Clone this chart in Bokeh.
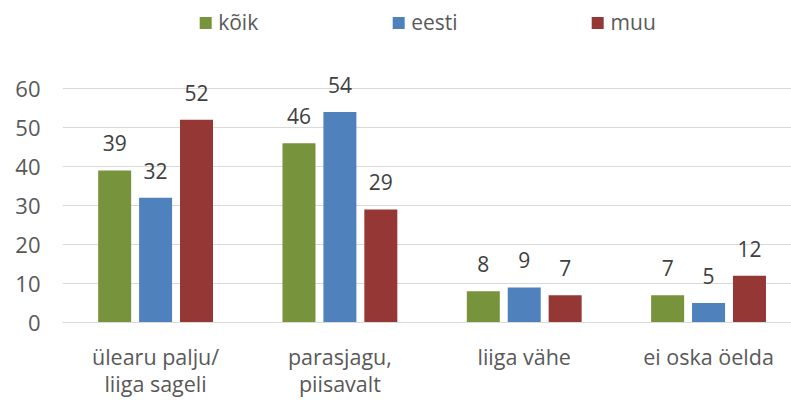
from bokeh.plotting import figure
from bokeh.models import ColumnDataSource, FixedTicker, Range1d, Legend, LegendItem
from bokeh.embed import file_html
from bokeh.resources import INLINE
from bokeh.core.properties import value

categories = ["ülearu palju/\nliiga sageli", "parasjagu,\npiisavalt", "liiga vähe", "ei oska öelda"]
series_names = ["kõik", "eesti", "muu"]
koik = [39, 46, 8, 7]
eesti = [32, 54, 9, 5]
muu = [52, 29, 7, 12]
y_ticks = [0, 10, 20, 30, 40, 50, 60]

colors = ["#77933C", "#4F81BD", "#953735"]
offsets = [-0.222, 0.0, 0.222]
FONT = "Open Sans"

p = figure(width=791, height=403, output_backend="svg", toolbar_location=None,
           x_range=Range1d(-0.505, 3.45), y_range=Range1d(0, 82.6),
           min_border_left=62, min_border_right=0, min_border_top=0, min_border_bottom=81)

xs = list(range(len(categories)))
renderers = []
for vals, col, off in zip([koik, eesti, muu], colors, offsets):
    src = ColumnDataSource(dict(x=[x + off for x in xs], top=vals, lab=[str(v) for v in vals]))
    r = p.vbar(x="x", top="top", width=0.179, source=src, fill_color=col, line_color=None)
    renderers.append(r)
    p.text(x="x", y="top", text="lab", source=src, text_align="center", text_baseline="bottom",
           y_offset=-19, text_font=value(FONT), text_font_size="21px", text_color="#404040")

legend = Legend(items=[LegendItem(label=n, renderers=[r]) for n, r in zip(series_names, renderers)],
                orientation="horizontal", location="top_center", glyph_width=15, glyph_height=15,
                label_standoff=6, spacing=132, label_text_font=FONT, label_text_font_size="21px",
                label_text_color="#595959", border_line_color=None, background_fill_alpha=0,
                padding=4, margin=8)
p.add_layout(legend)

p.xaxis.ticker = FixedTicker(ticks=xs)
p.xaxis.major_label_overrides = {i: c for i, c in enumerate(categories)}
p.xaxis.major_tick_line_color = None
p.xaxis.minor_tick_line_color = None
p.xaxis.axis_line_color = "#D9D9D9"
p.xaxis.major_label_standoff = 13
p.xaxis.major_label_text_font = FONT
p.xaxis.major_label_text_font_size = "21.5px"
p.xaxis.major_label_text_line_height = 0.95
p.xaxis.major_label_text_color = "#595959"

p.yaxis.ticker = FixedTicker(ticks=y_ticks)
p.yaxis.major_tick_line_color = None
p.yaxis.minor_tick_line_color = None
p.yaxis.axis_line_color = None
p.yaxis.major_label_standoff = 16
p.yaxis.major_label_text_font = FONT
p.yaxis.major_label_text_font_size = "22px"
p.yaxis.major_label_text_color = "#595959"

p.xgrid.grid_line_color = None
p.ygrid.grid_line_color = "#D9D9D9"
p.ygrid.ticker = FixedTicker(ticks=y_ticks)
p.outline_line_color = None

open("out.html", "w").write(file_html(p, INLINE))
